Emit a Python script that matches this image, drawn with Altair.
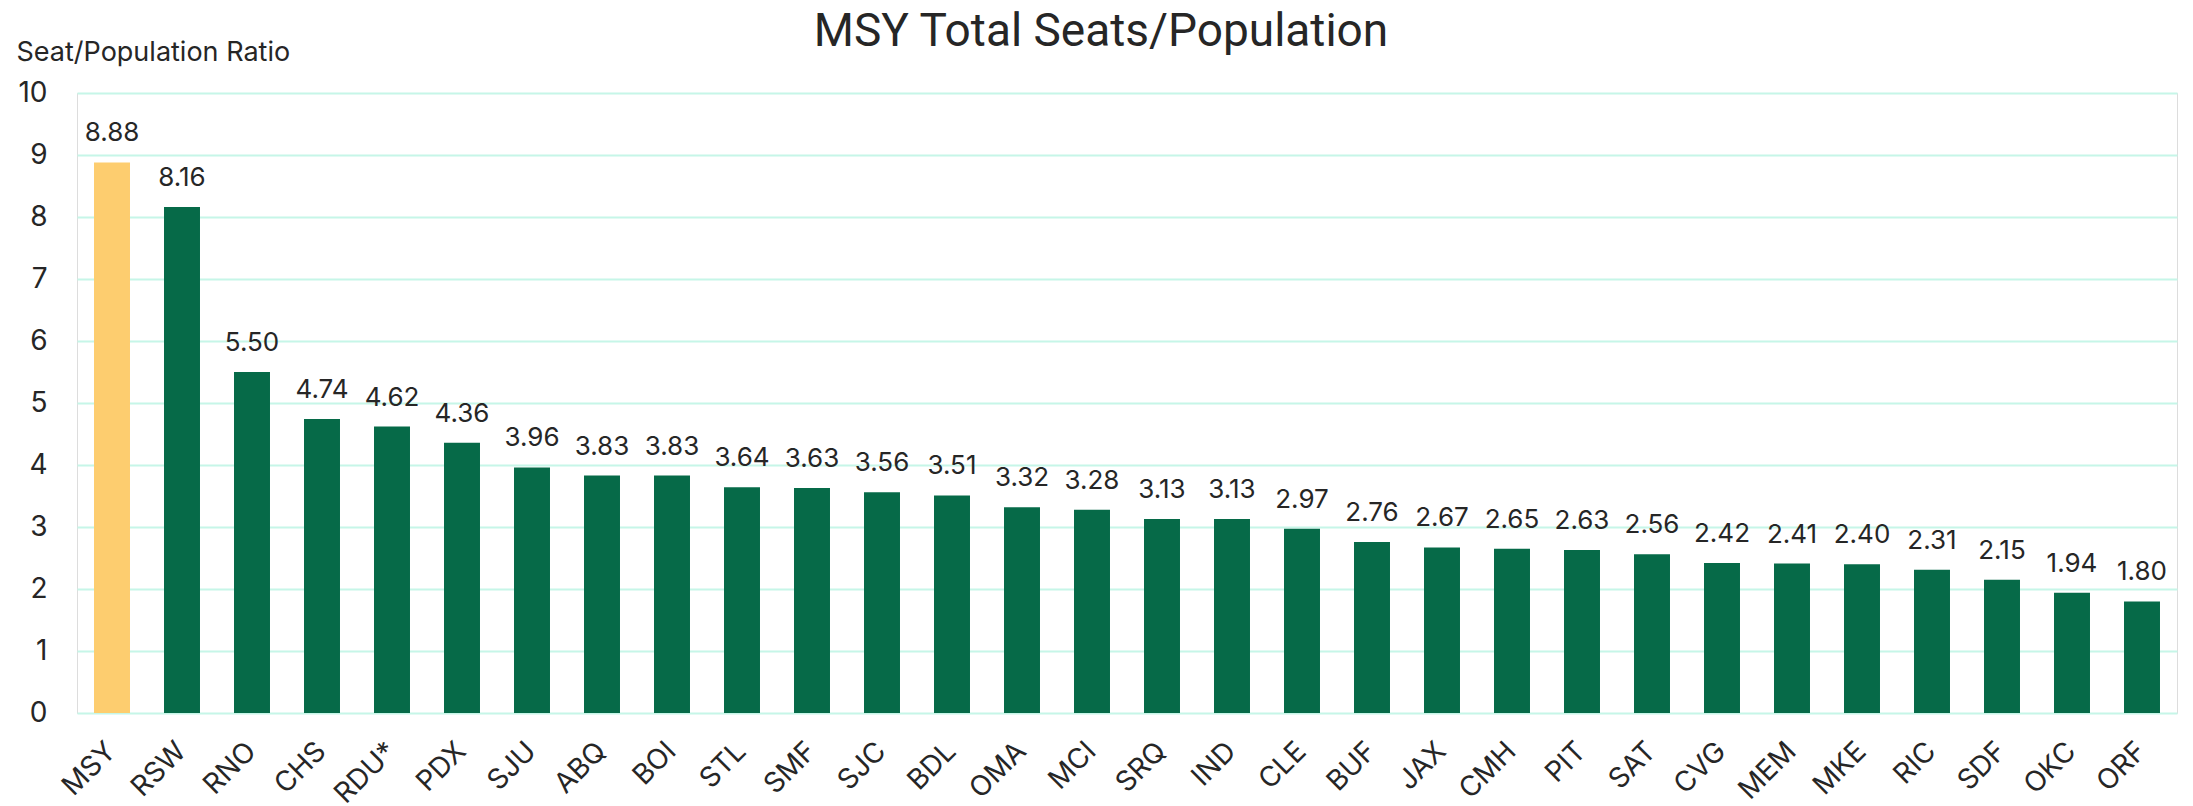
import altair as alt
import pandas as pd

airports = ["MSY", "RSW", "RNO", "CHS", "RDU*", "PDX", "SJU", "ABQ", "BOI", "STL",
            "SMF", "SJC", "BDL", "OMA", "MCI", "SRQ", "IND", "CLE", "BUF", "JAX",
            "CMH", "PIT", "SAT", "CVG", "MEM", "MKE", "RIC", "SDF", "OKC", "ORF"]
ratios = [8.88, 8.16, 5.50, 4.74, 4.62, 4.36, 3.96, 3.83, 3.83, 3.64,
          3.63, 3.56, 3.51, 3.32, 3.28, 3.13, 3.13, 2.97, 2.76, 2.67,
          2.65, 2.63, 2.56, 2.42, 2.41, 2.40, 2.31, 2.15, 1.94, 1.80]
y_ticks = [0, 1, 2, 3, 4, 5, 6, 7, 8, 9, 10]
chart_title = ["MSY Total Seats/Population"]

df = pd.DataFrame({"airport": airports, "ratio": ratios})
title_df = pd.DataFrame({"t": chart_title})

FONT = "Inter"
GREEN = "#066A48"
GOLD = "#FDCD6F"
GRID = "#C6F6E8"
TEXT = "#262626"

x_enc = alt.X("airport:N", sort=None,
              scale=alt.Scale(paddingInner=0.486, paddingOuter=0.243),
              axis=alt.Axis(title=None, labelAngle=-45, labelFontSize=28, labelFont=FONT,
                            labelColor=TEXT, labelPadding=24, labelOffset=-10,
                            ticks=False, domain=False, grid=False))
y_enc = alt.Y("ratio:Q",
              scale=alt.Scale(domain=[0, 10], nice=False),
              axis=alt.Axis(title="Seat/Population Ratio", values=y_ticks, format="d",
                            titleAngle=0, titleAlign="left", titleBaseline="alphabetic",
                            titleX=-61, titleY=-33, titleFontSize=27, titleFont=FONT,
                            titleFontWeight="normal", titleColor=TEXT,
                            labelFontSize=28, labelFont=FONT, labelColor=TEXT,
                            labelPadding=30, ticks=False, domain=False,
                            grid=True, gridColor=GRID, gridWidth=2))

bars = alt.Chart(df).mark_bar().encode(
    x=x_enc,
    y=y_enc,
    color=alt.condition(alt.datum.airport == "MSY", alt.value(GOLD), alt.value(GREEN)),
)

labels = alt.Chart(df).mark_text(baseline="bottom", dy=-16, fontSize=26, font=FONT,
                                 color=TEXT).encode(
    x=alt.X("airport:N", sort=None),
    y=alt.Y("ratio:Q"),
    text=alt.Text("ratio:Q", format=".2f"),
)

title = alt.Chart(title_df).mark_text(fontSize=46, font="Roboto", color=TEXT,
                                      align="center", baseline="alphabetic").encode(
    text="t:N",
    x=alt.value(1024),
    y=alt.value(-47),
)

chart = alt.layer(bars, labels, title).properties(
    width=2100,
    height=620,
    autosize=alt.AutoSizeParams(type="none"),
    padding={"left": 69, "top": 85, "right": 8, "bottom": 93},
).configure_view(stroke=None).configure(background="white")

chart.save("out.html", embed_options={"renderer": "svg", "actions": False})
